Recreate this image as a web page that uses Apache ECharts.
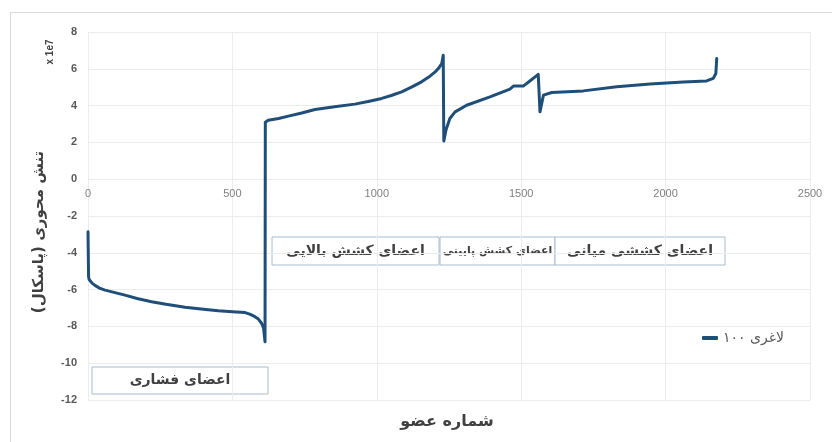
<!DOCTYPE html>
<html>
<head>
<meta charset="utf-8">
<script src="https://cdn.jsdelivr.net/npm/echarts@6/dist/echarts.min.js"></script>
<style>
html,body{margin:0;padding:0;background:#fff;}
#chart{width:832px;height:442px;}
</style>
</head>
<body>
<div id="chart"></div>
<script>
// Member number (x) and axial stress in units of 1e7 Pa (y)
var memberNo = [0, 2, 4, 8, 14, 24, 40, 59, 90, 128, 170, 220, 270, 336, 400, 451, 500, 544, 560, 578, 590, 601, 608, 613,
                614, 619, 624, 660, 694, 740, 786, 860, 924, 970, 1017, 1050, 1086, 1120, 1155, 1180, 1202, 1215, 1225, 1230,
                1232, 1240, 1253, 1271, 1311, 1392, 1461, 1473, 1507, 1530, 1559, 1563,
                1565, 1577, 1606, 1715, 1831, 1946, 2061, 2142, 2165, 2174, 2177];
var axialStress = [-2.86, -5.3, -5.45, -5.55, -5.65, -5.77, -5.92, -6.03, -6.15, -6.3, -6.48, -6.66, -6.8, -6.96, -7.07, -7.15, -7.2, -7.25, -7.33, -7.47, -7.6, -7.83, -8.1, -8.84,
                   3.1, 3.11, 3.2, 3.3, 3.43, 3.6, 3.79, 3.95, 4.08, 4.22, 4.39, 4.55, 4.75, 5.0, 5.29, 5.55, 5.83, 6.05, 6.29, 6.74,
                   2.07, 2.7, 3.3, 3.66, 4.02, 4.47, 4.9, 5.06, 5.06, 5.34, 5.7, 5.74,
                   3.66, 4.57, 4.71, 4.8, 5.03, 5.17, 5.28, 5.34, 5.48, 5.74, 6.56];
var seriesName = 'لاغری ۱۰۰';
var xTitle = 'شماره عضو';
var yTitle = 'تنش محوری (پاسکال)';
var yUnit = 'x 1e7';
var boxLabels = ['اعضای فشاری', 'اعضای کشش بالایی', 'اعضای کشش پایینی', 'اعضای کششی میانی'];

var points = memberNo.map(function (m, i) { return [m, axialStress[i]]; });
var arabicFont = '"DejaVu Sans", sans-serif';

var gridTop = 32, gridBottom = 42, chartH = 442;
var yMin = -12, yMax = 8;
// place the x axis on the y = 0 line
var zeroOffset = -((chartH - gridBottom - gridTop) * (0 - yMin) / (yMax - yMin));

function box(x, y, w, h, label, size) {
  return {
    type: 'group', x: x, y: y,
    children: [
      { type: 'rect', shape: { x: 0, y: 0, width: w, height: h }, style: { fill: '#fff', stroke: '#a9bccd', lineWidth: 1 } },
      { type: 'text', x: w / 2, y: h / 2, style: { text: label, fill: '#404040', font: 'bold ' + size + 'px ' + arabicFont, textAlign: 'center', textVerticalAlign: 'middle' } }
    ]
  };
}

var chart = echarts.init(document.getElementById('chart'), null, { renderer: 'canvas' });
chart.setOption({
  animation: false,
  backgroundColor: '#fff',
  grid: { left: 88, right: 22, top: gridTop, bottom: gridBottom, containLabel: false },
  xAxis: {
    type: 'value', min: 0, max: 2500, interval: 500, position: 'bottom', offset: zeroOffset,
    axisLine: { show: false, onZero: false },
    axisTick: { show: false },
    axisLabel: { color: '#7f7f7f', fontSize: 11, margin: 9, fontFamily: '"Liberation Sans", Arial, sans-serif', formatter: function (v) { return String(v); } },
    splitLine: { show: true, lineStyle: { color: '#ececec', width: 1 } }
  },
  yAxis: {
    type: 'value', min: yMin, max: yMax, interval: 2,
    axisLine: { show: false, onZero: false },
    axisTick: { show: false },
    axisLabel: { color: '#595959', fontSize: 11, fontWeight: 'bold', margin: 11, fontFamily: '"Liberation Sans", Arial, sans-serif' },
    splitLine: { show: true, lineStyle: { color: '#ececec', width: 1 } }
  },
  legend: {
    show: true, left: 697, top: 326, orient: 'horizontal',
    itemWidth: 16, itemHeight: 4, icon: 'roundRect',
    textStyle: { color: '#595959', fontSize: 14, fontFamily: arabicFont },
    data: [seriesName]
  },
  series: [{
    name: seriesName, type: 'line', data: points,
    symbol: 'none', smooth: false,
    lineStyle: { color: '#1f4e79', width: 3, join: 'round', cap: 'round' },
    itemStyle: { color: '#1f4e79' },
    z: 3
  }],
  graphic: [
    { type: 'line', shape: { x1: 10, y1: 12.5, x2: 832, y2: 12.5 }, style: { stroke: '#d9d9d9', lineWidth: 1 }, z: -1 },
    { type: 'line', shape: { x1: 10.5, y1: 12, x2: 10.5, y2: 442 }, style: { stroke: '#d9d9d9', lineWidth: 1 }, z: -1 },
    box(92, 367, 176, 27, boxLabels[0], 14),
    box(272, 237, 167, 28, boxLabels[1], 14),
    box(440, 237, 115, 28, boxLabels[2], 11),
    box(555, 237, 170, 28, boxLabels[3], 14),
    { type: 'text', x: 447, y: 422, style: { text: xTitle, fill: '#404040', font: 'bold 16px ' + arabicFont, textAlign: 'center', textVerticalAlign: 'middle' } },
    { type: 'text', x: 39, y: 232, rotation: Math.PI / 2, style: { text: yTitle, fill: '#404040', font: 'bold 15px ' + arabicFont, textAlign: 'center', textVerticalAlign: 'middle' } },
    { type: 'text', x: 50, y: 52, rotation: Math.PI / 2, style: { text: yUnit, fill: '#404040', font: 'bold 10px "Liberation Sans", Arial, sans-serif', textAlign: 'center', textVerticalAlign: 'middle' } }
  ]
});
</script>
</body>
</html>
